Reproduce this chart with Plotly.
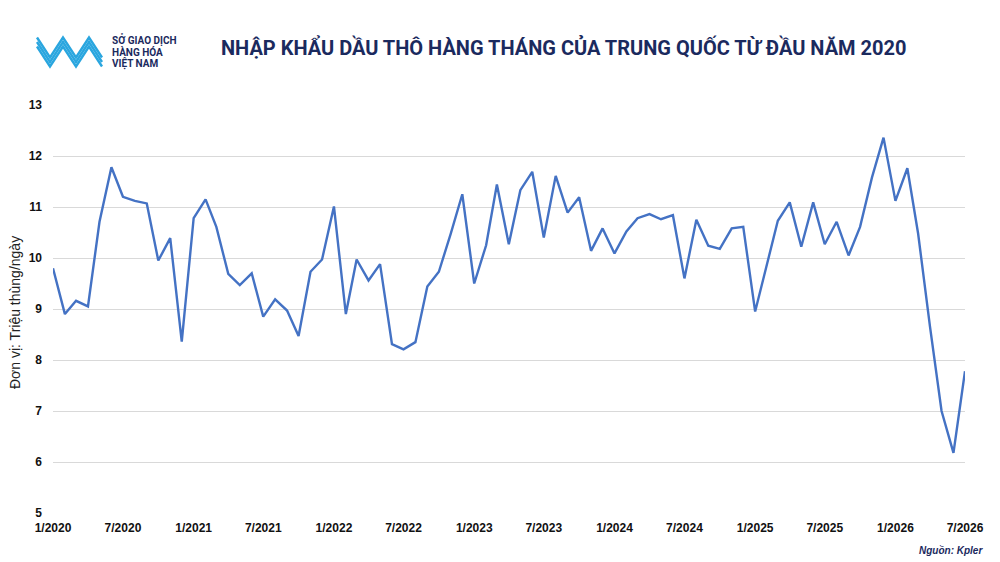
import pandas as pd
import plotly.graph_objects as go

# Nhập khẩu dầu thô hàng tháng của Trung Quốc (triệu thùng/ngày), 1/2020 - 7/2026
months = pd.date_range("2020-01-01", "2026-07-01", freq="MS")
imports = [
    9.80, 8.90, 9.16, 9.05, 10.71, 11.78, 11.20, 11.12, 11.07, 9.95, 10.39, 8.36,
    10.78, 11.15, 10.61, 9.69, 9.47, 9.70, 8.85, 9.19, 8.97, 8.47, 9.73, 9.97,
    11.01, 8.90, 9.97, 9.56, 9.88, 8.31, 8.21, 8.35, 9.44, 9.73, 10.48, 11.25,
    9.50, 10.25, 11.44, 10.27, 11.33, 11.69, 10.40, 11.61, 10.89, 11.19, 10.14, 10.58,
    10.09, 10.52, 10.78, 10.86, 10.76, 10.84, 9.60, 10.75, 10.24, 10.18, 10.58, 10.61,
    8.95, 9.86, 10.73, 11.09, 10.22, 11.09, 10.27, 10.71, 10.05, 10.61, 11.58, 12.36,
    11.12, 11.76, 10.48, 8.65, 7.00, 6.18, 7.78,
]
tick_dates = pd.date_range("2020-01-01", "2026-07-01", freq="6MS")
tick_labels = [f"{d.month}/{d.year}" for d in tick_dates]

title = "NHẬP KHẨU DẦU THÔ HÀNG THÁNG CỦA TRUNG QUỐC TỪ ĐẦU NĂM 2020"
logo_lines = ["SỞ GIAO DỊCH", "HÀNG HÓA", "VIỆT NAM"]
navy = "#1b2a5e"

W, H = 1000, 562
# plot area in pixels (left, top, right, bottom)
L, T, R, B = 53, 105, 965, 513


def px(x, y):
    return (x - L) / (R - L), (B - y) / (B - T)


fig = go.Figure()
fig.add_trace(go.Scatter(
    x=months, y=imports, mode="lines",
    line=dict(color="#4472C4", width=2.4),
    hoverinfo="x+y",
))

# logo: a band of blue zig-zag stripes
shapes = []
xs = [37, 50, 63, 76, 89, 102]
for dy in (-4.5, 0, 4.5):
    pts = [(xx, (42 if i % 2 == 0 else 62) + dy) for i, xx in enumerate(xs)]
    path = "M " + " L ".join(f"{px(a, b)[0]:.5f},{px(a, b)[1]:.5f}" for a, b in pts)
    shapes.append(dict(type="path", xref="paper", yref="paper", path=path,
                       line=dict(color="#2aa6df", width=2.4)))

annotations = [
    dict(text=f"<b>{title}</b>", x=px(563, 47)[0], y=px(563, 47)[1],
         xref="paper", yref="paper", xanchor="center", yanchor="middle", showarrow=False,
         font=dict(family="Roboto, Arial", size=20, color=navy)),
    dict(text="<b><i>Nguồn: Kpler</i></b>", x=px(985, 550)[0], y=px(985, 550)[1],
         xref="paper", yref="paper", xanchor="right", yanchor="middle", showarrow=False,
         font=dict(family="Liberation Sans, Arial", size=10, color=navy)),
    dict(text="Đơn vị: Triệu thùng/ngày", x=px(15, 313)[0], y=px(15, 313)[1],
         xref="paper", yref="paper", xanchor="center", yanchor="middle",
         textangle=-90, showarrow=False,
         font=dict(family="Liberation Sans, Arial", size=14, color="#222222")),
]
for i, line in enumerate(logo_lines):
    yy = 40 + i * 11.6
    annotations.append(dict(
        text=f"<b>{line}</b>", x=px(110, yy)[0], y=px(110, yy)[1],
        xref="paper", yref="paper", xanchor="left", yanchor="middle", showarrow=False,
        font=dict(family="Roboto, Arial", size=10, color=navy)))

fig.update_layout(
    width=W, height=H,
    margin=dict(l=L, r=W - R, t=T, b=H - B),
    paper_bgcolor="white", plot_bgcolor="white",
    showlegend=False,
    shapes=shapes,
    annotations=annotations,
    font=dict(family="Liberation Sans, Arial", color="#111111"),
)
fig.update_xaxes(
    range=[months[0], months[-1]],
    tickvals=tick_dates, ticktext=[f"<b>{t}</b>" for t in tick_labels],
    tickfont=dict(size=12), showgrid=False, zeroline=False,
    showline=False, ticks="", ticklabelstandoff=6,
)
fig.update_yaxes(
    range=[5, 13], dtick=1, tickfont=dict(size=12),
    tickprefix="<b>", ticksuffix="</b>",
    showgrid=True, gridcolor="#d9d9d9", gridwidth=1, zeroline=False,
    showline=False, ticks="", ticklabelstandoff=10,
)

# the default page has an 8px body margin; drop it so the figure fills the window
fig.write_html("out.html", config={"displayModeBar": False},
               post_script="document.body.style.margin = '0';")
